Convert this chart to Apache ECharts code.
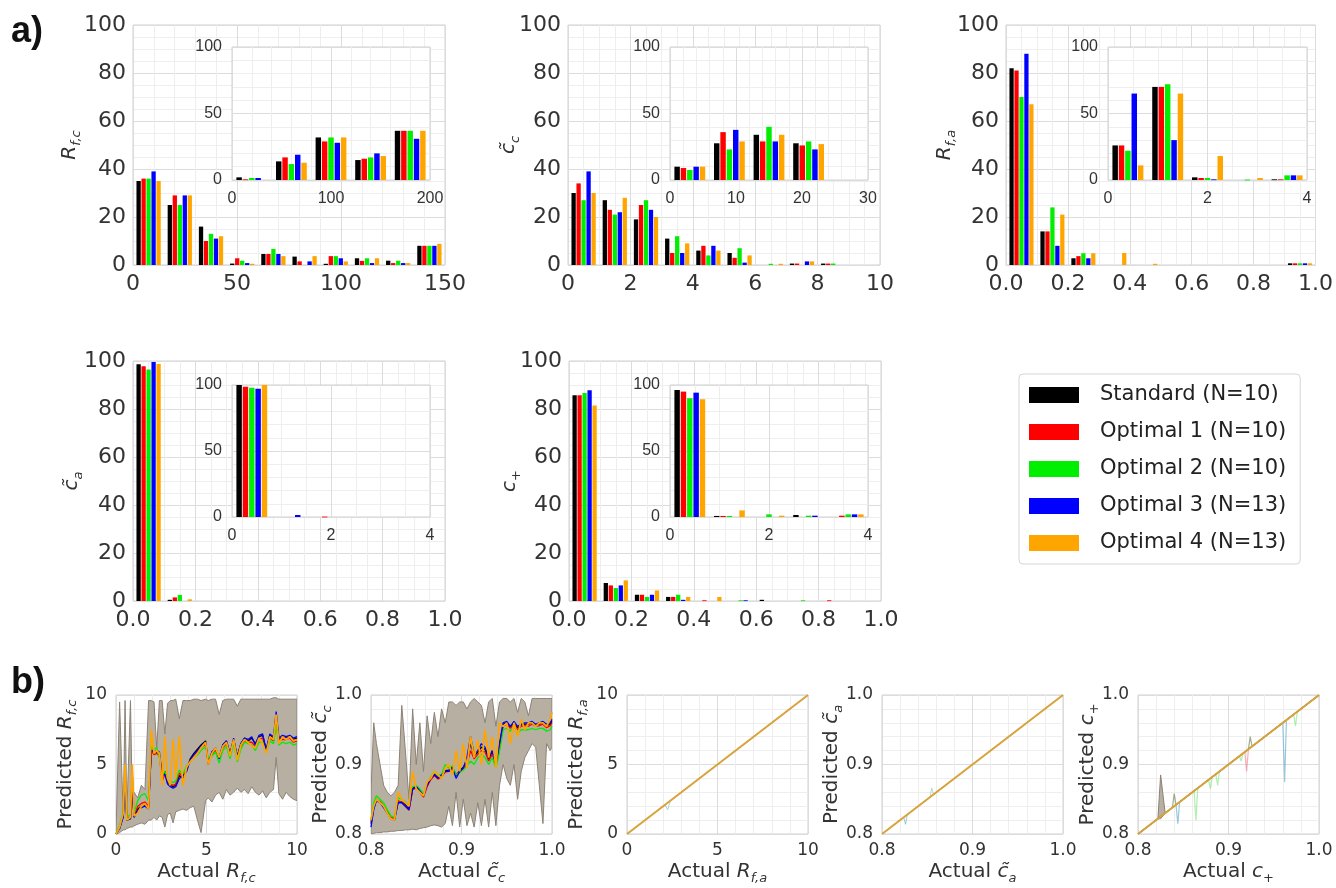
<!DOCTYPE html>
<html><head><meta charset="utf-8">
<script src="https://cdn.jsdelivr.net/npm/echarts@6/dist/echarts.min.js"></script>
<style>html,body{margin:0;padding:0;background:#fff}#c{width:1336px;height:888px}</style>
</head><body><div id="c"></div>
<script>
// ---------- DATA ----------
const models = ['Standard (N=10)','Optimal 1 (N=10)','Optimal 2 (N=10)','Optimal 3 (N=13)','Optimal 4 (N=13)'];
const colors = ['#000000','#ff0000','#00ee00','#0000ff','#ffa500'];

// Part a: histogram bin edges and percentages (rows: Standard, Opt1, Opt2, Opt3, Opt4)
const a1Edges = [0,15,30,45,60,75,90,105,120,135,150];
const a1Main = [
  [35,25,16,0.6,4.6,3.5,0.5,2.8,1.8,8],
  [36,29,10,2.8,4.6,1.5,3.7,1.7,0.8,8],
  [36,25,13,1.8,6.7,0,3.7,2.8,1.8,8],
  [39,29,11,0.8,4.6,1.5,2.8,0.8,0.8,8],
  [35,29,12,0.5,3.7,3.7,1.5,2.8,0.8,8.8]
];
const a1InsetEdges = [0,40,80,120,160,200];
const a1Inset = [
  [2,14,32,15,37],
  [0.5,17,29,16,37],
  [1.5,12,32,17,37],
  [1.5,19,28,20,31],
  [0,13,32,18,37]
];
const a2Edges = [0,1,2,3,4,5,6,7,8,9,10];
const a2Main = [
  [30,27,19,11,6,5,0,0.6,0.6,0],
  [34,23,25,5,8,3,0,0.6,0.6,0],
  [27,21,27,12,4,7,0.5,0,0.6,0],
  [39,22,23,5,8,1,0,1.5,0,0],
  [30,28,20,9,6,4,0.5,1.5,0,0]
];
const a2InsetEdges = [0,6,12,18,24,30];
const a2Inset = [
  [10,27.6,34,27.6,0],
  [9,36,29,26,0],
  [7.5,23,40,29,0],
  [10,37.7,29,23,0],
  [10,29,34,27,0]
];
const unitEdges = [0,0.1,0.2,0.3,0.4,0.5,0.6,0.7,0.8,0.9,1.0];
const smallInsetEdges = [0,0.8,1.6,2.4,3.2,4.0];
const a3Main = [
  [82,14,2.8,0,0,0,0,0,0,0.7],
  [81,14,3.7,0,0,0,0,0,0,0.7],
  [70,24,4.9,0,0,0,0,0,0,0.7],
  [88,8,2.8,0,0,0,0,0,0,0.7],
  [67,21,4.9,5,0.5,0,0,0,0,0.7]
];
const a3Inset = [
  [26,70,2,0,0.5],
  [26,70,1.5,0,0.5],
  [22,72,1.5,0.3,3.5],
  [65,30,0.5,0,3.5],
  [11,65,18,1.5,3.5]
];
const a4Main = [
  [98.6,0.5,0,0,0,0,0,0,0,0],
  [97.8,1.5,0,0,0,0,0,0,0,0],
  [96.5,2.5,0,0,0,0,0,0,0,0],
  [99.6,0,0,0,0,0,0,0,0,0],
  [98.8,0.7,0,0,0,0,0,0,0,0]
];
const a4Inset = [
  [100,0,0,0,0],
  [98.7,0,0.3,0,0],
  [98,0,0,0,0],
  [97.2,1.5,0,0,0],
  [100,0,0,0,0]
];
const a5Main = [
  [85.7,7.5,2.6,1.7,0,0,0.5,0,0,0],
  [85.7,6.5,2.6,1.7,0.3,0,0,0,0.3,0],
  [86.7,5.4,1.7,2.6,0,0.3,0,0.3,0,0],
  [87.8,6.5,2.6,0.5,0,0.3,0,0,0,0],
  [81.5,8.6,4.4,1.7,1.7,0,0,0,0,0]
];
const a5Inset = [
  [96.2,0.8,0,1.5,0],
  [95,0.8,0,0,1],
  [90,0.8,2,1,2],
  [94.2,0,0,1,2],
  [89.2,5,1,0,2]
];

// Part b1: actual vs predicted R_f,c
const b1X = [0,0.2,0.4,0.5,0.6,0.8,0.9,1.0,1.2,1.4,1.6,1.8,1.95,2.1,2.25,2.4,2.55,2.7,2.85,3.0,3.15,3.3,3.5,3.7,3.9,4.1,4.3,4.5,4.7,4.95,5.1,5.3,5.5,5.7,5.9,6.1,6.3,6.5,6.7,6.9,7.1,7.3,7.5,7.7,7.9,8.1,8.3,8.5,8.7,8.85,9.0,9.2,9.4,9.6,9.8,10];
const b1Lo = [0,0.1,0.3,0.3,0.4,0.5,0.5,0.6,0.7,0.8,0.7,1.0,1.0,1.2,1.0,1.3,1.2,0.5,1.4,1.5,0.8,1.6,1.7,1.8,1.7,1.9,2.0,1.0,0.1,2.4,2.6,2.3,2.8,3.0,2.5,3.2,2.8,3.0,3.3,3.0,3.2,2.9,3.4,3.0,2.8,3.1,2.6,3.0,3.2,5.5,2.9,2.5,3.0,2.7,2.5,2.4];
const b1Hi = [0.2,9.5,1.2,9.6,1.5,9.6,2.2,3.0,2.6,3.5,3.2,9.6,9.6,9.5,6.2,9.6,9.6,7.2,9.4,9.6,9.6,9.7,8.3,9.6,9.6,9.6,9.7,9.7,9.6,9.7,9.6,9.7,9.7,8.6,9.6,9.7,9.7,9.7,9.2,9.7,9.7,9.7,9.7,9.7,9.7,9.7,9.7,9.7,9.8,9.8,9.7,9.7,9.7,9.7,9.7,9.7];
const b1Std = [0,0.4,1.3,3.8,1.0,1.1,3.2,1.2,1.8,2.0,2.1,1.9,6.1,5.8,5.9,5.8,4.0,4.5,3.7,3.5,3.4,3.5,4.2,4.0,4.6,5.4,5.8,6.1,6.4,6.7,5.1,5.9,6.1,5.5,6.4,6.7,5.8,6.8,5.6,6.5,6.9,6.7,6.9,6.5,7.0,7.1,6.1,7.1,6.9,8.5,6.8,7.0,6.9,7.0,6.8,6.9];
const b1Opt1 = [0,0.5,1.4,4.5,1.1,1.2,4.5,1.3,2.0,2.2,2.3,2.0,6.0,5.7,5.8,5.6,3.8,4.3,3.8,3.6,3.5,3.6,4.4,4.1,4.7,5.3,5.6,5.9,6.2,6.5,5.2,5.7,6.0,5.5,6.2,6.5,5.7,6.6,5.5,6.3,6.7,6.6,6.6,6.3,6.8,6.9,6.0,6.9,6.7,8.0,6.7,6.8,6.8,6.9,6.6,6.7];
const b1Opt2 = [0,0.6,1.6,4.0,1.2,1.4,4.0,1.5,2.4,2.8,2.9,2.4,6.3,6.1,6.2,5.5,4.2,4.5,3.9,3.8,3.7,3.8,4.6,4.3,4.9,5.2,5.5,5.7,6.0,6.3,5.5,5.6,5.9,5.1,6.0,6.3,5.4,6.5,5.2,6.1,6.6,6.5,6.4,6.0,6.6,6.6,5.9,6.7,6.5,7.8,6.4,6.6,6.5,6.6,6.4,6.5];
const b1Opt3 = [0,0.4,1.2,3.5,1.0,1.1,3.0,1.2,1.7,1.9,2.0,1.8,6.0,5.9,6.0,5.9,4.2,4.3,3.6,3.4,3.3,3.4,4.0,4.2,4.5,5.3,5.7,6.0,6.3,6.6,5.0,5.9,6.2,5.4,6.4,6.7,5.7,6.9,5.5,6.5,6.9,6.8,7.0,6.4,7.1,7.2,6.0,7.2,7.0,8.8,6.9,7.1,7.0,7.1,6.9,7.0];
const b1Opt4 = [0,0.5,1.5,5,1,1.2,5,1.3,1.5,2,2.2,1.8,7.5,5.8,6,5.8,3.5,7,4,3.5,6.8,4,7,3.5,4.8,5.2,5.5,5.8,6.2,6.6,5,5.8,6.2,5.5,6.3,6.6,5.6,6.8,5.3,6.4,6.8,6.6,6.3,6.2,6.9,6.5,5.8,7,6.8,8.6,6.5,7,6.8,7,6.7,6.8];

// Part b2: actual vs predicted c~_c
const b2X = [0.800,0.803,0.806,0.810,0.814,0.818,0.822,0.826,0.830,0.834,0.838,0.842,0.846,0.850,0.854,0.858,0.862,0.866,0.870,0.874,0.878,0.882,0.886,0.890,0.894,0.898,0.902,0.906,0.910,0.914,0.918,0.922,0.926,0.930,0.934,0.938,0.942,0.946,0.950,0.954,0.958,0.962,0.966,0.970,0.974,0.978,0.982,0.986,0.990,0.994,0.998,1.000];
const b2Lo = [0.800,0.801,0.802,0.802,0.803,0.803,0.804,0.804,0.805,0.805,0.806,0.806,0.807,0.806,0.808,0.809,0.810,0.812,0.813,0.812,0.810,0.815,0.840,0.812,0.860,0.810,0.850,0.812,0.830,0.810,0.845,0.812,0.850,0.810,0.860,0.812,0.870,0.900,0.880,0.870,0.900,0.850,0.890,0.910,0.920,0.930,0.925,0.870,0.815,0.930,0.920,0.925];
const b2Hi = [0.860,0.960,0.930,0.900,0.870,0.860,0.855,0.860,0.870,0.985,0.920,0.850,0.980,0.900,0.960,0.890,0.970,0.930,0.975,0.940,0.980,0.960,0.990,0.990,0.985,0.990,0.990,0.980,0.990,0.995,0.990,0.985,0.960,0.990,0.995,0.955,0.990,0.995,0.995,0.990,0.995,0.975,0.995,0.990,0.970,0.995,0.995,0.995,0.995,0.995,0.995,0.995];
const b2Std = [0.815,0.837,0.850,0.846,0.840,0.831,0.823,0.821,0.847,0.846,0.842,0.836,0.866,0.868,0.861,0.856,0.871,0.879,0.886,0.881,0.884,0.891,0.892,0.896,0.884,0.891,0.896,0.905,0.930,0.912,0.918,0.925,0.922,0.908,0.918,0.901,0.928,0.958,0.960,0.954,0.960,0.953,0.957,0.958,0.958,0.960,0.957,0.958,0.960,0.956,0.958,0.962];
const b2Opt1 = [0.818,0.838,0.849,0.846,0.840,0.832,0.824,0.822,0.848,0.845,0.840,0.834,0.864,0.866,0.860,0.853,0.868,0.878,0.884,0.879,0.882,0.889,0.890,0.893,0.886,0.889,0.894,0.900,0.920,0.908,0.915,0.920,0.918,0.905,0.915,0.898,0.925,0.955,0.958,0.952,0.958,0.950,0.955,0.956,0.955,0.958,0.955,0.956,0.958,0.953,0.956,0.960];
const b2Opt2 = [0.820,0.845,0.855,0.850,0.845,0.835,0.826,0.824,0.852,0.850,0.846,0.840,0.868,0.870,0.865,0.858,0.872,0.882,0.890,0.884,0.886,0.900,0.895,0.898,0.885,0.888,0.892,0.898,0.905,0.900,0.910,0.915,0.910,0.900,0.910,0.895,0.918,0.950,0.952,0.948,0.955,0.945,0.950,0.950,0.950,0.952,0.950,0.952,0.952,0.948,0.950,0.955];
const b2Opt3 = [0.810,0.835,0.848,0.845,0.838,0.830,0.822,0.820,0.845,0.845,0.840,0.835,0.865,0.868,0.862,0.855,0.870,0.880,0.885,0.880,0.885,0.890,0.890,0.895,0.880,0.890,0.895,0.910,0.940,0.915,0.920,0.930,0.925,0.910,0.920,0.900,0.930,0.960,0.962,0.955,0.962,0.955,0.958,0.960,0.960,0.962,0.958,0.960,0.962,0.958,0.960,0.965];
const b2Opt4 = [0.820,0.840,0.850,0.845,0.840,0.830,0.822,0.820,0.860,0.850,0.845,0.840,0.890,0.865,0.860,0.855,0.875,0.880,0.890,0.885,0.880,0.895,0.900,0.885,0.920,0.890,0.930,0.895,0.940,0.910,0.935,0.900,0.950,0.910,0.940,0.895,0.960,0.955,0.960,0.930,0.960,0.940,0.965,0.950,0.960,0.960,0.955,0.960,0.960,0.955,0.965,0.975];

// Part b3: actual vs predicted R_f,a (diagonal with one small deviation)
const b3X = [0,10];
const b3Y = [0,10];
const b3DevX = [0,2.1,2.25,2.4,10];
const b3DevY = [0,2.1,1.75,2.4,10];
// Part b4: actual vs predicted c~_a
const b4X = [0.8,1.0];
const b4Y = [0.8,1.0];
const b4DevAX = [0.8,0.824,0.826,0.828,1.0];
const b4DevAY = [0.8,0.824,0.814,0.828,1.0];
const b4DevBX = [0.8,0.853,0.855,0.857,1.0];
const b4DevBY = [0.8,0.853,0.866,0.857,1.0];
// Part b5: actual vs predicted c_+
const b5BandX = [0.8,0.822,0.825,0.83,1.0];
const b5BandLo = [0.8,0.822,0.822,0.83,1.0];
const b5BandHi = [0.8,0.822,0.885,0.83,1.0];
const b5StdX = [0.8,0.838,0.840,0.842,0.922,0.924,0.926,1.0];
const b5StdY = [0.8,0.838,0.858,0.842,0.922,0.940,0.926,1.0];
const b5Opt1X = [0.8,0.918,0.920,0.922,1.0];
const b5Opt1Y = [0.8,0.918,0.890,0.922,1.0];
const b5Opt2X = [0.8,0.862,0.864,0.866,0.878,0.880,0.882,0.886,0.888,0.890,0.912,0.914,0.916,0.972,0.974,0.976,1.0];
const b5Opt2Y = [0.8,0.862,0.820,0.866,0.878,0.865,0.882,0.886,0.870,0.890,0.912,0.905,0.916,0.972,0.955,0.976,1.0];
const b5Opt3X = [0.8,0.842,0.844,0.846,0.960,0.962,0.964,1.0];
const b5Opt3Y = [0.8,0.842,0.815,0.846,0.960,0.875,0.964,1.0];
const b5Opt4X = [0.8,1.0];
const b5Opt4Y = [0.8,1.0];

// ---------- BUILD ----------
const FF = "'DejaVu Sans', sans-serif";
const FI = "'Liberation Sans', Arial, sans-serif";
const TXT = '#333333';
const grids = [], xAxes = [], yAxes = [], series = [];
const fmt1 = v => (Math.round(v*10)/10).toFixed(1);

function richFor(fs, sfs, pad) {
  return {
    i: {fontStyle:'italic', fontSize:fs, fontFamily:FF, color:TXT},
    s: {fontStyle:'italic', fontSize:sfs, fontFamily:FF, color:TXT, padding:[pad,0,0,0]}
  };
}
const richA = richFor(20, 13, 13);
const richB = richFor(20, 13, 13);

function axis(gi, o) {
  return {
    type:'value', gridIndex:gi, min:o.min, max:o.max, interval:o.interval, z:o.z||0,
    axisLine:{show:false}, axisTick:{show:false},
    splitLine:{show:true, lineStyle:{color:'#dcdcdc', width:1}},
    minorTick:{show:false, splitNumber:o.minor},
    minorSplitLine:{show:true, lineStyle:{color:'#eeeeee', width:1}},
    axisLabel:{fontSize:o.fs, fontFamily:o.ff, color:TXT, margin:o.margin, formatter:o.fmt || undefined, showMinLabel:true, showMaxLabel:true},
    name:o.name || '', nameLocation:'middle', nameGap:o.nameGap || 0, nameRotate:o.rot || 0,
    nameMoveOverlap:false,
    nameTextStyle:{fontFamily:FF, fontSize:o.nfs || 18, color:TXT, rich:o.rich}
  };
}

function addGrid(rect, z) {
  grids.push(Object.assign({show:true, backgroundColor:'#ffffff', borderColor:'#d0d0d0', borderWidth:1, z:z, containLabel:false}, rect));
  return grids.length - 1;
}

function histSeries(gi, edges, vals, z) {
  vals.forEach((arr, m) => {
    series.push({
      type:'custom', name:models[m], xAxisIndex:gi, yAxisIndex:gi, z:z, silent:true,
      itemStyle:{color:colors[m]},
      data: arr.map((v, i) => [edges[i], edges[i+1], v]),
      encode:{x:[0,1], y:2},
      renderItem: (params, api) => {
        const v = api.value(2);
        if (!(v > 0)) return {type:'group', children:[]};
        const p0 = api.coord([api.value(0), 0]);
        const p1 = api.coord([api.value(1), v]);
        const bw = p1[0] - p0[0];
        const slot = bw * 0.8 / 5;
        const x = p0[0] + bw * 0.1 + slot * m + slot * 0.07;
        return {type:'rect', shape:{x:x, y:p1[1], width:slot*0.86, height:Math.max(p0[1]-p1[1], 0.8)}, style:{fill:colors[m]}};
      }
    });
  });
}

const aPanels = [
  {rect:{left:133,top:25,width:312,height:240}, xMax:150, xInt:50, xMinor:5, edges:a1Edges, vals:a1Main, fmt:null, name:'{i|R}{s|f,c}', gap:50,
   inset:{rect:{left:232,top:47,width:198,height:133}, xMax:200, xInt:100, xMinor:5, edges:a1InsetEdges, vals:a1Inset}},
  {rect:{left:568,top:25,width:312,height:240}, xMax:10, xInt:2, xMinor:4, edges:a2Edges, vals:a2Main, fmt:null, name:'{i|c\u0303}{s|c}', gap:46,
   inset:{rect:{left:670,top:47,width:198,height:133}, xMax:30, xInt:10, xMinor:5, edges:a2InsetEdges, vals:a2Inset}},
  {rect:{left:1006,top:25,width:311,height:240}, xMax:1, xInt:0.2, xMinor:4, edges:unitEdges, vals:a3Main, fmt:fmt1, name:'{i|R}{s|f,a}', gap:48,
   inset:{rect:{left:1108,top:47,width:199,height:133}, xMax:4, xInt:2, xMinor:4, edges:smallInsetEdges, vals:a3Inset}},
  {rect:{left:133,top:361,width:312,height:240}, xMax:1, xInt:0.2, xMinor:4, edges:unitEdges, vals:a4Main, fmt:fmt1, name:'{i|c\u0303}{s|a}', gap:48,
   inset:{rect:{left:232,top:385,width:198,height:132}, xMax:4, xInt:2, xMinor:4, edges:smallInsetEdges, vals:a4Inset}},
  {rect:{left:569,top:361,width:312,height:240}, xMax:1, xInt:0.2, xMinor:4, edges:unitEdges, vals:a5Main, fmt:fmt1, name:'{i|c}{s|+}', gap:46,
   inset:{rect:{left:670,top:385,width:198,height:132}, xMax:4, xInt:2, xMinor:4, edges:smallInsetEdges, vals:a5Inset}}
];

aPanels.forEach(p => {
  const g = addGrid(p.rect, 0);
  xAxes.push(axis(g, {min:0, max:p.xMax, interval:p.xInt, minor:p.xMinor, fs:22, ff:FF, margin:8, fmt:p.fmt}));
  yAxes.push(axis(g, {min:0, max:100, interval:20, minor:4, fs:22, ff:FF, margin:7, name:p.name, nameGap:p.gap, rot:90, rich:richA, nfs:20}));
  histSeries(g, p.edges, p.vals, 2);
  const q = p.inset;
  const gi = addGrid(q.rect, 5);
  xAxes.push(axis(gi, {min:0, max:q.xMax, interval:q.xInt, minor:q.xMinor, fs:16, ff:FI, margin:11, z:5}));
  yAxes.push(axis(gi, {min:0, max:100, interval:50, minor:5, fs:16, ff:FI, margin:10, z:5}));
  histSeries(gi, q.edges, q.vals, 6);
});

// Part b panels
function bandSeries(gi, xs, lo, hi, z) {
  series.push({
    type:'custom', name:'band', xAxisIndex:gi, yAxisIndex:gi, z:z, silent:true, clip:true,
    data: xs.map((x, i) => [x, lo[i], hi[i]]),
    encode:{x:0, y:[1,2]},
    renderItem: (params, api) => {
      if (params.dataIndex !== 0) return {type:'group', children:[]};
      const pts = [];
      for (let i = 0; i < xs.length; i++) pts.push(api.coord([xs[i], hi[i]]));
      for (let i = xs.length - 1; i >= 0; i--) pts.push(api.coord([xs[i], lo[i]]));
      return {type:'polygon', shape:{points:pts}, style:{fill:'#b8afa3', stroke:'#8c8276', lineWidth:1}};
    }
  });
}
function lineSeries(gi, m, xs, ys, z, width, opacity, color) {
  series.push({
    type:'line', name:models[m], xAxisIndex:gi, yAxisIndex:gi, z:z, silent:true,
    symbol:'none', showSymbol:false, clip:true,
    data: xs.map((x, i) => [x, ys[i]]),
    itemStyle:{color:colors[m]},
    lineStyle:{color:color || colors[m], width:width, opacity:opacity}
  });
}

const bPanels = [
  {left:116, min:0, max:10, int:5, fmt:null, xn:'Actual {i|R}{s|f,c}', yn:'Predicted {i|R}{s|f,c}'},
  {left:371, min:0.8, max:1.0, int:0.1, fmt:fmt1, xn:'Actual {i|c\u0303}{s|c}', yn:'Predicted {i|c\u0303}{s|c}'},
  {left:627, min:0, max:10, int:5, fmt:null, xn:'Actual {i|R}{s|f,a}', yn:'Predicted {i|R}{s|f,a}'},
  {left:882, min:0.8, max:1.0, int:0.1, fmt:fmt1, xn:'Actual {i|c\u0303}{s|a}', yn:'Predicted {i|c\u0303}{s|a}'},
  {left:1138, min:0.8, max:1.0, int:0.1, fmt:fmt1, xn:'Actual {i|c}{s|+}', yn:'Predicted {i|c}{s|+}'}
];
const bIdx = bPanels.map(p => {
  const g = addGrid({left:p.left, top:695, width:181, height:139}, 0);
  xAxes.push(axis(g, {min:p.min, max:p.max, interval:p.int, minor:5, fs:17, ff:FF, margin:8, fmt:p.fmt, name:p.xn, nameGap:25, rich:richB, nfs:20}));
  yAxes.push(axis(g, {min:p.min, max:p.max, interval:p.int, minor:5, fs:17, ff:FF, margin:9, fmt:p.fmt, name:p.yn, nameGap:37, rot:90, rich:richB, nfs:20}));
  return g;
});

// b1
bandSeries(bIdx[0], b1X, b1Lo, b1Hi, 2);
[b1Std, b1Opt1, b1Opt2, b1Opt3, b1Opt4].forEach((ys, m) => lineSeries(bIdx[0], m, b1X, ys, 3 + m, m === 4 ? 1.8 : 1.3, 1));
// b2
bandSeries(bIdx[1], b2X, b2Lo, b2Hi, 2);
[b2Std, b2Opt1, b2Opt2, b2Opt3, b2Opt4].forEach((ys, m) => lineSeries(bIdx[1], m, b2X, ys, 3 + m, m === 4 ? 1.8 : 1.3, 1));
// b3
lineSeries(bIdx[2], 2, b3DevX, b3DevY, 3, 1, 0.5, '#5fb3a0');
lineSeries(bIdx[2], 4, b3X, b3Y, 6, 2, 1, '#d9a23a');
// b4
lineSeries(bIdx[3], 3, b4DevAX, b4DevAY, 3, 1, 0.5, '#4a9ab0');
lineSeries(bIdx[3], 2, b4DevBX, b4DevBY, 3, 1, 0.5, '#70c090');
lineSeries(bIdx[3], 4, b4X, b4Y, 6, 2, 1, '#d9a23a');
// b5
bandSeries(bIdx[4], b5BandX, b5BandLo, b5BandHi, 2);
lineSeries(bIdx[4], 0, b5StdX, b5StdY, 3, 1.2, 0.55, '#556b2f');
lineSeries(bIdx[4], 1, b5Opt1X, b5Opt1Y, 3, 1.2, 0.55, '#f07080');
lineSeries(bIdx[4], 2, b5Opt2X, b5Opt2Y, 3, 1.2, 0.5, '#60e060');
lineSeries(bIdx[4], 3, b5Opt3X, b5Opt3Y, 3, 1.2, 0.5, '#3a90b8');
lineSeries(bIdx[4], 4, b5Opt4X, b5Opt4Y, 6, 2, 1, '#d9a23a');

const option = {
  animation:false,
  backgroundColor:'#ffffff',
  textStyle:{fontFamily:FF},
  grid:grids, xAxis:xAxes, yAxis:yAxes, series:series,
  legend:{
    data:models, orient:'vertical', left:1019, top:374, icon:'rect', itemWidth:50, itemHeight:16, itemGap:15,
    padding:[10,14,10,10], borderColor:'#d5d5d5', borderWidth:1, borderRadius:4, backgroundColor:'#ffffff',
    selectedMode:false,
    textStyle:{fontSize:21, fontFamily:FF, color:'#222222', padding:[0,0,0,16], lineHeight:22}
  },
  graphic:[
    {type:'text', left:11, top:14, style:{text:'a)', font:"bold 36px 'Liberation Sans', Arial, sans-serif", fill:'#111111'}},
    {type:'text', left:11, top:665, style:{text:'b)', font:"bold 36px 'Liberation Sans', Arial, sans-serif", fill:'#111111'}}
  ]
};
const chart = echarts.init(document.getElementById('c'), null, {renderer:'canvas'});
chart.setOption(option);
</script>
</body></html>
